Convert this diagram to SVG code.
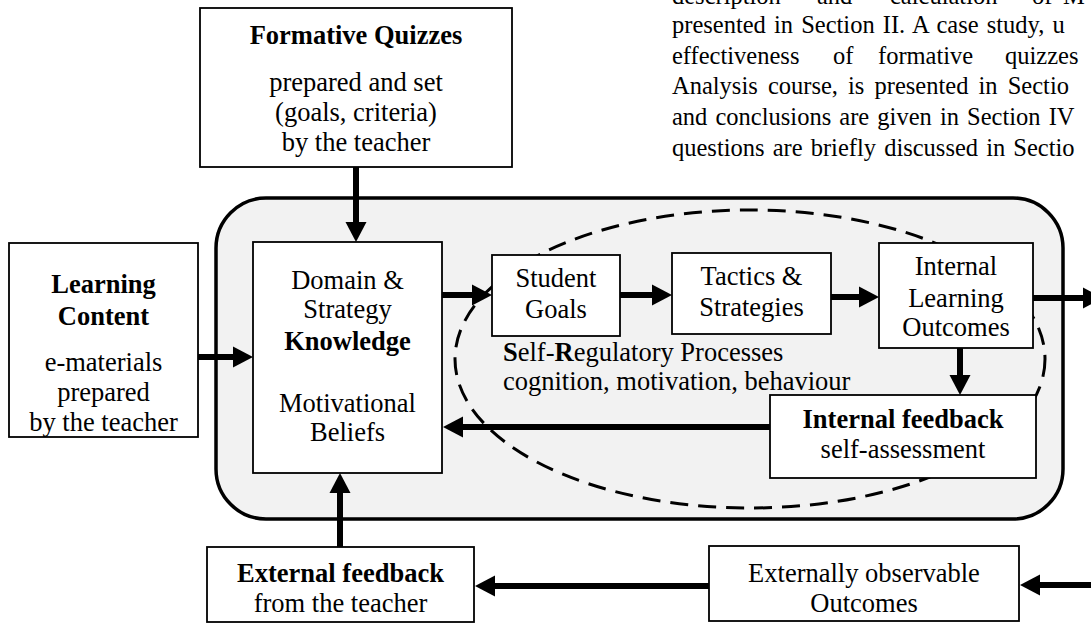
<svg xmlns="http://www.w3.org/2000/svg" width="1091" height="626" viewBox="0 0 1091 626">
<style>
text{font-family:"Liberation Serif","Times New Roman",serif;font-size:26.5px;fill:#000}
.c{text-anchor:middle}
.b{font-weight:bold}
.p{font-size:24.5px}
.box{fill:#fff;stroke:#000;stroke-width:1.8}
.ar{stroke:#000;stroke-width:6;fill:none;marker-end:url(#ah)}
</style>
<defs>
<marker id="ah" markerUnits="userSpaceOnUse" markerWidth="20" markerHeight="21" refX="0" refY="10.5" orient="auto" overflow="visible">
<path d="M0,0 L20,10.5 L0,21 Z" fill="#000"/>
</marker>
</defs>
<rect width="1091" height="626" fill="#fff"/>

<g id="paragraph">
<text class="p" x="672" y="4">description</text>
<text class="p" x="817" y="4">and</text>
<text class="p" x="890" y="4">calculation</text>
<text class="p" x="1032" y="4">of</text>
<text class="p" x="1063" y="4">M</text>
<text class="p" x="672" y="33" word-spacing="2">presented in Section II. A case study, u</text>
<text class="p" x="672" y="63.5">effectiveness</text>
<text class="p" x="833" y="63.5">of</text>
<text class="p" x="878" y="63.5">formative</text>
<text class="p" x="1005" y="63.5">quizzes</text>
<text class="p" x="672" y="94" word-spacing="4">Analysis course, is presented in Sectio</text>
<text class="p" x="672" y="125" word-spacing="2">and conclusions are given in Section IV</text>
<text class="p" x="672" y="155.5" word-spacing="2">questions are briefly discussed in Sectio</text>
</g>

<g id="container">
<rect x="216" y="198" width="847" height="321" rx="50" ry="50" fill="#f2f2f2" stroke="#000" stroke-width="3.5"/>
</g>
<g id="srp-region">
<ellipse cx="750" cy="359" rx="295" ry="149" fill="none" stroke="#000" stroke-width="3" stroke-dasharray="18 10"/>
<text x="503" y="361"><tspan class="b">S</tspan>elf-<tspan class="b">R</tspan>egulatory Processes</text>
<text x="503" y="390">cognition, motivation, behaviour</text>
</g>

<g id="formative-quizzes">
<rect class="box" x="200" y="8" width="312" height="159"/>
<text class="c b" x="356" y="44">Formative Quizzes</text>
<text class="c" x="356" y="91">prepared and set</text>
<text class="c" x="356" y="121">(goals, criteria)</text>
<text class="c" x="356" y="151">by the teacher</text>
</g>

<g id="learning-content">
<rect class="box" x="9" y="243" width="189" height="194"/>
<text class="c b" x="103.5" y="293">Learning</text>
<text class="c b" x="103.5" y="325">Content</text>
<text class="c" x="103.5" y="371">e-materials</text>
<text class="c" x="103.5" y="401">prepared</text>
<text class="c" x="103.5" y="431">by the teacher</text>
</g>

<g id="knowledge-beliefs">
<rect class="box" x="253" y="242" width="189" height="231"/>
<text class="c" x="347.5" y="289">Domain &amp;</text>
<text class="c" x="347.5" y="318">Strategy</text>
<text class="c b" x="347.5" y="350">Knowledge</text>
<text class="c" x="347.5" y="412">Motivational</text>
<text class="c" x="347.5" y="441">Beliefs</text>
</g>

<g id="student-goals">
<rect class="box" x="492" y="255" width="128" height="81"/>
<text class="c" x="556" y="287">Student</text>
<text class="c" x="556" y="318">Goals</text>
</g>

<g id="tactics-strategies">
<rect class="box" x="672" y="253" width="159" height="81"/>
<text class="c" x="751.5" y="285">Tactics &amp;</text>
<text class="c" x="751.5" y="316">Strategies</text>
</g>

<g id="internal-learning-outcomes">
<rect class="box" x="879" y="243" width="154" height="105"/>
<text class="c" x="956" y="275">Internal</text>
<text class="c" x="956" y="307">Learning</text>
<text class="c" x="956" y="336">Outcomes</text>
</g>

<g id="internal-feedback">
<rect class="box" x="770" y="395" width="266" height="83"/>
<text class="c b" x="903" y="428">Internal feedback</text>
<text class="c" x="903" y="458">self-assessment</text>
</g>

<g id="external-feedback">
<rect class="box" x="207" y="547" width="267" height="75"/>
<text class="c b" x="340.5" y="582">External feedback</text>
<text class="c" x="340.5" y="612">from the teacher</text>
</g>

<g id="externally-observable-outcomes">
<rect class="box" x="709" y="546" width="310" height="75"/>
<text class="c" x="864" y="582">Externally observable</text>
<text class="c" x="864" y="612">Outcomes</text>
</g>

<g id="connectors">
<line class="ar" x1="356" y1="167" x2="356" y2="222"/>
<line class="ar" x1="198" y1="357" x2="233" y2="357"/>
<line class="ar" x1="442" y1="295" x2="472" y2="295"/>
<line class="ar" x1="620" y1="295" x2="652" y2="295"/>
<line class="ar" x1="831" y1="297" x2="859" y2="297"/>
<line class="ar" x1="1033" y1="298" x2="1083" y2="298"/>
<line class="ar" x1="960" y1="348" x2="960" y2="375"/>
<line class="ar" x1="770" y1="427" x2="463" y2="427"/>
<line class="ar" x1="340" y1="547" x2="340" y2="493"/>
<line class="ar" x1="709" y1="586" x2="495" y2="586"/>
<line class="ar" x1="1095" y1="585" x2="1040" y2="585"/>
</g>
</svg>
